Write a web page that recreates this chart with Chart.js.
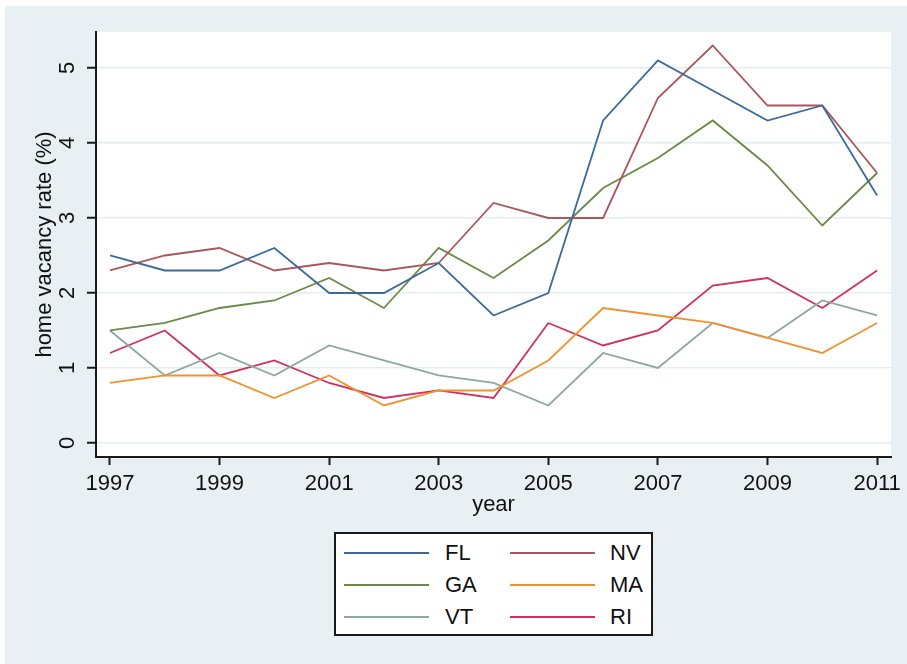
<!DOCTYPE html>
<html>
<head>
<meta charset="utf-8">
<title>Home vacancy rate by state</title>
<script src="https://cdn.jsdelivr.net/npm/chart.js@4.4.1/dist/chart.umd.min.js"></script>
<style>
  html, body { margin: 0; padding: 0; background: #ffffff; }
  #wrap { position: relative; width: 907px; height: 664px; font-family: "Liberation Sans", Arial, sans-serif; }
  #vacancyChart { position: absolute; left: 0; top: 0; }
  #legendBox {
    position: absolute; left: 334px; top: 532px; width: 319px; height: 104px;
    box-sizing: border-box; border: 2px solid #1a1a1a; background: #ffffff;
  }
  .key { position: absolute; height: 2px; width: 85px; }
  .keyText { position: absolute; font-size: 22px; line-height: 22px; color: #111111; }
</style>
</head>
<body>
<div id="wrap">
  <canvas id="vacancyChart" width="907" height="664"></canvas>
  <div id="legendBox"></div>
</div>
<script>
// years on the x axis and the labelled ticks
const years = [1997, 1998, 1999, 2000, 2001, 2002, 2003, 2004, 2005, 2006, 2007, 2008, 2009, 2010, 2011];
const yearTicks = [1997, 1999, 2001, 2003, 2005, 2007, 2009, 2011];
const rateTicks = [0, 1, 2, 3, 4, 5];

// home vacancy rate (%) per state
const flRate = [2.5, 2.3, 2.3, 2.6, 2.0, 2.0, 2.4, 1.7, 2.0, 4.3, 5.1, 4.7, 4.3, 4.5, 3.3];
const nvRate = [2.3, 2.5, 2.6, 2.3, 2.4, 2.3, 2.4, 3.2, 3.0, 3.0, 4.6, 5.3, 4.5, 4.5, 3.6];
const gaRate = [1.5, 1.6, 1.8, 1.9, 2.2, 1.8, 2.6, 2.2, 2.7, 3.4, 3.8, 4.3, 3.7, 2.9, 3.6];
const maRate = [0.8, 0.9, 0.9, 0.6, 0.9, 0.5, 0.7, 0.7, 1.1, 1.8, 1.7, 1.6, 1.4, 1.2, 1.6];
const vtRate = [1.5, 0.9, 1.2, 0.9, 1.3, 1.1, 0.9, 0.8, 0.5, 1.2, 1.0, 1.6, 1.4, 1.9, 1.7];
const riRate = [1.2, 1.5, 0.9, 1.1, 0.8, 0.6, 0.7, 0.6, 1.6, 1.3, 1.5, 2.1, 2.2, 1.8, 2.3];

const states = ["FL", "NV", "GA", "MA", "VT", "RI"];
const stateRates = [flRate, nvRate, gaRate, maRate, vtRate, riRate];
const stateColors = ["#3d6b98", "#a9565c", "#6a8b45", "#ee9330", "#8da89e", "#d2305a"];

const FONT = "'Liberation Sans', Arial, sans-serif";
const INK = "#111111";

// panel backgrounds: grey-blue frame, white plot region
const panelBackground = {
    id: "panelBackground",
    beforeDraw(chart) {
        const ctx = chart.ctx;
        const a = chart.chartArea;
        ctx.save();
        ctx.fillStyle = "#ffffff";
        ctx.fillRect(0, 0, chart.width, chart.height);
        ctx.fillStyle = "#e8f0f3";
        ctx.fillRect(5, 6, chart.width - 5, chart.height - 6);
        ctx.fillStyle = "#ffffff";
        ctx.fillRect(a.left, a.top, a.right - a.left, a.bottom - a.top);
        ctx.restore();
    }
};

const datasets = states.map((name, i) => ({
    label: name,
    data: years.map((yr, j) => ({ x: yr, y: stateRates[i][j] })),
    borderColor: stateColors[i],
    backgroundColor: stateColors[i],
    borderWidth: 1.8,
    pointRadius: 0,
    tension: 0,
    fill: false
}));

new Chart(document.getElementById("vacancyChart"), {
    type: "line",
    data: { datasets: datasets },
    options: {
        responsive: false,
        animation: false,
        devicePixelRatio: 1,
        layout: { padding: { left: 20, top: 32, right: 14, bottom: 146 } },
        plugins: {
            legend: { display: false },
            tooltip: { enabled: false }
        },
        scales: {
            x: {
                type: "linear",
                min: 1996.745,
                max: 2011.255,
                afterBuildTicks: axis => { axis.ticks = yearTicks.map(v => ({ value: v })); },
                afterFit: axis => { axis.height = 61; },
                grid: { drawOnChartArea: false, drawTicks: true, tickLength: 8, tickColor: "#1a1a1a", tickWidth: 2 },
                border: { display: true, color: "#1a1a1a", width: 2 },
                ticks: {
                    color: INK,
                    font: { family: FONT, size: 22 },
                    padding: 6,
                    maxRotation: 0,
                    autoSkip: false,
                    callback: v => String(v)
                },
                title: {
                    display: true,
                    text: "year",
                    color: INK,
                    font: { family: FONT, size: 22 },
                    padding: { top: 0, bottom: 0 }
                }
            },
            y: {
                type: "linear",
                min: -0.187,
                max: 5.48,
                afterBuildTicks: axis => { axis.ticks = rateTicks.map(v => ({ value: v })); },
                afterFit: axis => { axis.width = 76; },
                grid: { color: "#e3edf0", lineWidth: 1.5, tickLength: 9, tickColor: "#1a1a1a", tickWidth: 2 },
                border: { display: true, color: "#1a1a1a", width: 2 },
                ticks: {
                    color: INK,
                    font: { family: FONT, size: 22 },
                    padding: 13,
                    minRotation: 90,
                    maxRotation: 90,
                    crossAlign: "center",
                    callback: v => String(v)
                },
                title: {
                    display: true,
                    text: "home vacancy rate (%)",
                    color: INK,
                    font: { family: FONT, size: 22 },
                    padding: { top: 12, bottom: 0 }
                }
            }
        }
    },
    plugins: [panelBackground]
});

// boxed two-column key below the plot
const legendBox = document.getElementById("legendBox");
const rowCenters = [21, 53, 85];
states.forEach((name, i) => {
    const row = Math.floor(i / 2);
    const col = i % 2;
    const key = document.createElement("div");
    key.className = "key";
    key.style.left = (col === 0 ? 8 : 174) + "px";
    key.style.top = (rowCenters[row] - 3) + "px";
    key.style.background = stateColors[i];
    legendBox.appendChild(key);
    const txt = document.createElement("div");
    txt.className = "keyText";
    txt.textContent = name;
    txt.style.left = (col === 0 ? 109 : 274) + "px";
    txt.style.top = (rowCenters[row] - 13) + "px";
    legendBox.appendChild(txt);
});
</script>
</body>
</html>
